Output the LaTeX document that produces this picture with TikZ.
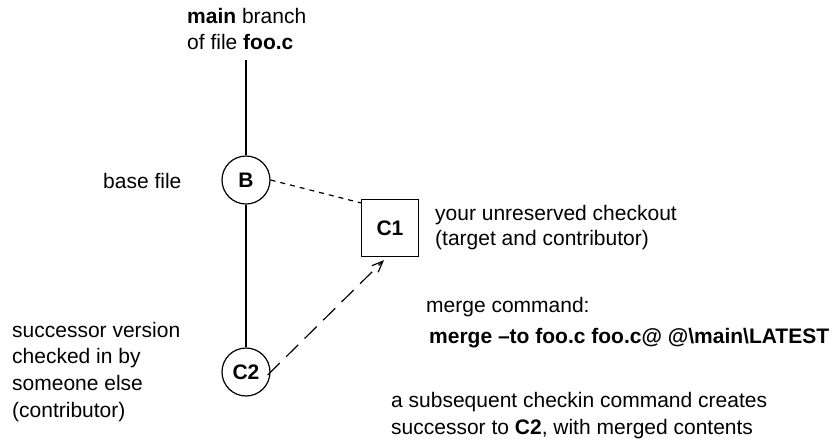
\documentclass[tikz,border=0pt]{standalone}
\usepackage{fontspec}
\setmainfont{Liberation Sans}
\usetikzlibrary{arrows.meta}
\begin{document}
\begin{tikzpicture}[x=1pt,y=-1pt,
  txt/.style={anchor=base west,inner sep=0pt,font=\fontsize{21}{26}\selectfont},
  ver/.style={draw,circle,line width=1.2pt,minimum size=48pt,inner sep=0pt,font=\fontsize{21}{26}\selectfont\bfseries},
  chk/.style={draw,rectangle,line width=1.2pt,minimum size=57pt,inner sep=0pt,font=\fontsize{21}{26}\selectfont\bfseries},
  branch/.style={line width=1.2pt},
  hyper/.style={line width=1.2pt,dash pattern=on 5pt off 5pt},
  mergearrow/.style={line width=1.2pt,dash pattern=on 17pt off 9pt,-{Straight Barb[length=11pt,width=9pt,line width=1.2pt]}}]
\useasboundingbox (0,0) rectangle (833,440);
% version nodes
\node[ver] (B) at (246,180) {B};
\node[ver] (C2) at (246,372) {C2};
\node[chk] (C1) at (390,228) {C1};
\coordinate (top) at (246,60);
% connectors
\draw[branch] (top) -- (B);
\draw[branch] (B) -- (C2);
\draw[hyper] (B.east) -- ([yshift=-4pt]C1.north west);
\draw[mergearrow] ([xshift=-3pt,yshift=-3pt]C2.east) -- ([xshift=-6pt,yshift=-3pt]C1.south);
% labels
\node[txt] (l1) at (187,23) {\textbf{main} branch};
\node[txt] (l2) at (187,49) {of file \textbf{foo.c}};
\node[txt] (bf) at (103,188) {base file};
\node[txt] (u1) at (435,220) {your unreserved checkout};
\node[txt] (u2) at (435,245) {(target and contributor)};
\node[txt] (m1) at (426,312) {merge command:};
\node[txt] (m2) at (429,343) {\textbf{merge –to foo.c foo.c@ @\textbackslash main\textbackslash LATEST}};
\node[txt] (s1) at (12,337) {successor version};
\node[txt] (s2) at (12,363) {checked in by};
\node[txt] (s3) at (12,390) {someone else};
\node[txt] (s4) at (12,417) {(contributor)};
\node[txt] (a1) at (391,407) {a subsequent checkin command creates};
\node[txt] (a2) at (391,434) {successor to \textbf{C2}, with merged contents};
\end{tikzpicture}
\end{document}
